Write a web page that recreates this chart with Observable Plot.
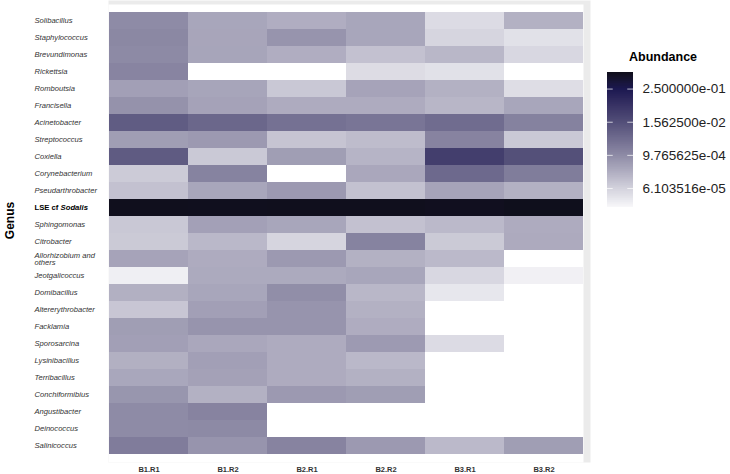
<!DOCTYPE html>
<html><head><meta charset="utf-8">
<script src="https://cdn.jsdelivr.net/npm/d3@7"></script>
<script src="https://cdn.jsdelivr.net/npm/@observablehq/plot@0.6"></script>
<style>
body{margin:0;background:#fff;font-family:"Liberation Sans",Arial,sans-serif;}
#wrap{position:relative;width:730px;height:474px;overflow:hidden;}
#wrap svg{position:absolute;}
#ltitle{position:absolute;left:629px;top:50px;font-weight:bold;font-size:12.5px;line-height:14px;color:#000;}
</style></head><body><div id="wrap"></div>
<script>
const genera = ["Solibacillus","Staphylococcus","Brevundimonas","Rickettsia","Romboutsia","Francisella",
  "Acinetobacter","Streptococcus","Coxiella","Corynebacterium","Pseudarthrobacter","LSE cf Sodalis",
  "Sphingomonas","Citrobacter","Allorhizobium and\nothers","Jeotgalicoccus","Domibacillus",
  "Altererythrobacter","Facklamia","Sporosarcina","Lysinibacillus","Terribacillus","Conchiformibius",
  "Angustibacter","Deinococcus","Salinicoccus"];
const samples = ["B1.R1","B1.R2","B2.R1","B2.R2","B3.R1","B3.R2"];

// abundance per sample, in genus order (0 = absent)
const B1R1 = [9.4e-4,1.1e-3,1.0e-3,1.26e-3,4.2e-4,7.1e-4,7.9e-3,4.5e-4,8.6e-3,7.8e-5,1.12e-4,0.93,8.8e-5,
  8.1e-5,3.6e-4,1.8e-5,2.2e-4,9.2e-5,4.5e-4,4.2e-4,2.2e-4,3.1e-4,6.2e-4,9.4e-4,9.4e-4,1.8e-3];
const B1R2 = [3.2e-4,3.3e-4,3.4e-4,0,3.4e-4,3.7e-4,4.7e-3,5.3e-4,8.4e-5,1.37e-3,3.2e-4,0.90,4.0e-4,
  1.6e-4,2.6e-4,2.8e-4,3.2e-4,4.2e-4,6.5e-4,3.05e-4,4.2e-4,3.9e-4,2.1e-4,1.32e-3,1.0e-3,6.5e-4];
const B2R1 = [2.4e-4,6.5e-4,2.4e-4,0,8.8e-5,2.6e-4,3.0e-3,9.9e-5,4.5e-4,0,5.3e-4,0.92,3.2e-4,
  5.2e-5,5.3e-4,2.8e-4,8.3e-4,6.5e-4,6.5e-4,2.6e-4,2.6e-4,2.6e-4,5.3e-4,0,0,1.32e-3];
const B2R2 = [3.2e-4,3.2e-4,1.12e-4,3.9e-5,3.6e-4,2.6e-4,2.5e-3,1.36e-4,1.88e-4,3.05e-4,1.12e-4,0.91,1.12e-4,
  1.37e-3,2.1e-4,3.2e-4,1.67e-4,2.1e-4,2.5e-4,5.1e-4,1.6e-4,2.1e-4,4.5e-4,0,0,5.3e-4];
const B3R1 = [4.1e-5,5.2e-5,1.67e-4,3.2e-5,2.1e-4,1.74e-4,3.8e-3,1.32e-3,3.44e-2,4.3e-3,3.6e-4,0.88,1.54e-4,
  8.1e-5,1.54e-4,4.8e-5,2.5e-5,0,0,4.1e-5,0,0,0,0,0,1.54e-4];
const B3R2 = [2.1e-4,3.2e-5,4.8e-5,0,3.7e-5,3.2e-4,1.43e-3,8.4e-5,1.44e-2,1.77e-3,2.1e-4,0.95,2.6e-4,
  2.7e-4,0,1.7e-5,0,0,0,0,0,0,0,0,0,4.5e-4];

const colorDomain = [1.25e-5, 1];
const legendTicks = [0.25, 0.015625, 9.765625e-4, 6.103516e-5];
const legendTitle = "Abundance";
const yTitle = "Genus";
const lseLabel = "LSE cf Sodalis";

const columns = [B1R1, B1R2, B2R1, B2R2, B3R1, B3R2];
const table = [];
samples.forEach((s, j) => genera.forEach((g, i) => table.push({sample: s, genus: g, value: columns[j][i]})));

const ramp = d3.scaleLinear()
  .domain([0, 0.141, 0.387, 0.632, 0.877, 1])
  .range(["#f8f8fa", "#d2d1dc", "#8d8aa5", "#524e78", "#1b1850", "#0e0e1a"])
  .interpolate(d3.interpolateLab);
const colorOpts = {type: "log", base: 2, domain: colorDomain, interpolate: t => ramp(t)};
const font = "'Liberation Sans', Arial, sans-serif";

function fmt(v) {
  const [m, e] = v.toExponential(6).split("e");
  const n = +e;
  return m + "e" + (n < 0 ? "-" : "+") + String(Math.abs(n)).padStart(2, "0");
}

const main = Plot.plot({
  width: 730, height: 474,
  marginLeft: 108, marginRight: 147, marginTop: 4, marginBottom: 12,
  style: {fontFamily: font, background: "transparent", overflow: "visible"},
  x: {domain: samples, padding: 0, label: null},
  y: {domain: genera, padding: 0, label: null, axis: null},
  color: colorOpts,
  marks: [
    Plot.frame({fill: "#ebebeb", insetTop: -4, insetRight: -7}),
    Plot.frame({fill: "white"}),
    Plot.cell(table.filter(d => d.value > 0), {x: "sample", y: "genus", fill: "value", inset: 0, shapeRendering: "crispEdges"}),
    Plot.axisX({tickSize: 0, tickPadding: 4, fontSize: 7.5, fontWeight: "bold", fill: "#333", label: null}),
    Plot.text(genera.filter(g => g !== lseLabel), {y: d => d, text: d => d, frameAnchor: "left", dx: -74,
      textAnchor: "start", fontStyle: "italic", fontSize: 7.6, fill: "#333", lineHeight: 1.0}),
    Plot.text([lseLabel], {y: d => d, text: d => d, frameAnchor: "left", dx: -74,
      textAnchor: "start", fontWeight: "bold", fontSize: 7.7, fill: "#000"}),
    Plot.text([yTitle], {text: d => d, frameAnchor: "left", dx: -98, dy: -13, rotate: -90,
      textAnchor: "middle", lineAnchor: "middle", fontWeight: "bold", fontSize: 12, fill: "#000"})
  ]
});
d3.select(main).selectAll("text").filter(function() { return this.textContent === lseLabel; })
  .each(function() {
    const t = d3.select(this);
    t.text("LSE cf ");
    t.append("tspan").attr("font-style", "italic").text("Sodalis");
  });

const N = 200, lo = colorDomain[0], hi = colorDomain[1];
const steps = d3.range(N).map(i => ({y1: lo * (hi / lo) ** (i / N), y2: lo * (hi / lo) ** ((i + 1) / N)}));

const legend = Plot.plot({
  width: 130, height: 220,
  marginLeft: 7, marginRight: 97, marginTop: 72, marginBottom: 13,
  style: {fontFamily: font, background: "transparent", overflow: "visible"},
  x: {domain: [0, 1], axis: null},
  y: {type: "log", base: 2, domain: colorDomain, axis: null},
  color: colorOpts,
  marks: [
    Plot.rect(steps, {x1: 0, x2: 1, y1: "y1", y2: "y2", fill: d => Math.sqrt(d.y1 * d.y2), shapeRendering: "crispEdges"}),
    Plot.ruleY(legendTicks, {y: d => d, x1: 0, x2: 0.22, stroke: "white", strokeOpacity: 0.7}),
    Plot.ruleY(legendTicks, {y: d => d, x1: 0.78, x2: 1, stroke: "white", strokeOpacity: 0.7}),
    Plot.text(legendTicks, {y: d => d, text: d => fmt(d), frameAnchor: "right", dx: 9,
      textAnchor: "start", lineAnchor: "middle", fontSize: 13.5, fill: "#222"})
  ]
});

const wrap = document.getElementById("wrap");
main.style.left = "0px"; main.style.top = "0px";
legend.style.left = "600px"; legend.style.top = "0px";
wrap.appendChild(main);
wrap.appendChild(legend);
const lt = document.createElement("div");
lt.id = "ltitle"; lt.textContent = legendTitle;
wrap.appendChild(lt);
</script></body></html>
